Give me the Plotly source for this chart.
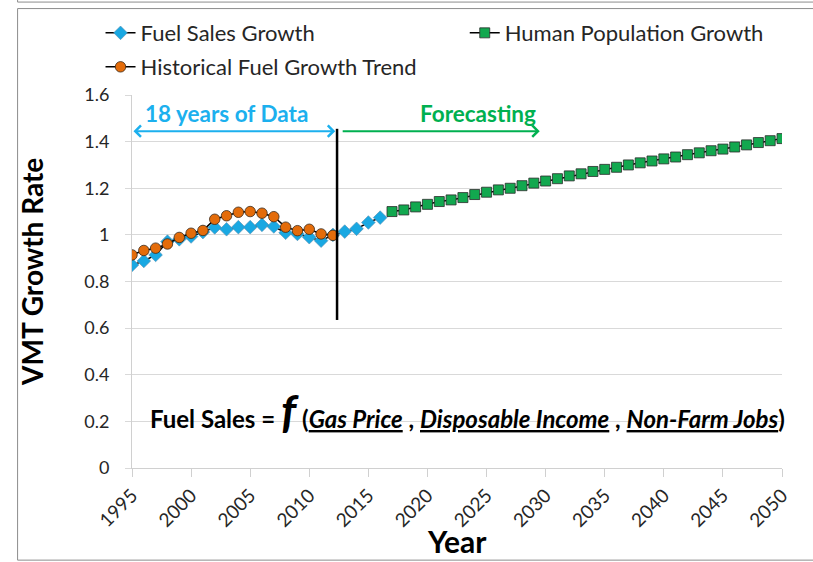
import plotly.graph_objects as go

# ---------------- data ----------------
fuel_years = list(range(1995, 2017))
fuel_sales = [0.871, 0.888, 0.914, 0.971, 0.981, 0.993, 1.012, 1.032, 1.024, 1.033,
              1.033, 1.043, 1.036, 1.009, 1.004, 0.990, 0.975, 1.000, 1.014, 1.026,
              1.053, 1.074]

trend_years = list(range(1995, 2013))
trend_values = [0.914, 0.933, 0.943, 0.961, 0.989, 1.007, 1.019, 1.067, 1.082, 1.097,
                1.100, 1.093, 1.078, 1.033, 1.018, 1.024, 1.004, 0.998]

pop_years = list(range(2017, 2051))
pop_values = [1.100, 1.107, 1.120, 1.131, 1.143, 1.150, 1.160, 1.173, 1.183, 1.193,
              1.200, 1.211, 1.222, 1.231, 1.241, 1.253, 1.262, 1.272, 1.281, 1.290,
              1.300, 1.309, 1.317, 1.326, 1.334, 1.344, 1.352, 1.361, 1.368, 1.377,
              1.386, 1.396, 1.404, 1.413]

x_ticks = list(range(1995, 2051, 5))
y_ticks = [0, 0.2, 0.4, 0.6, 0.8, 1.0, 1.2, 1.4, 1.6]
y_tick_text = ["0", "0.2", "0.4", "0.6", "0.8", "1", "1.2", "1.4", "1.6"]

# ---------------- layout geometry ----------------
W, H = 813, 562
L, R, T, B = 132, 30.5, 95, 93.7
PW, PH = W - L - R, H - T - B


def px(xp):
    return (xp - L) / PW


def py(yp):
    return (H - B - yp) / PH


FONT = "Lato"
TXT = "#262626"
BLUE = "#19A8E2"
ORANGE = "#E46C0A"
GREEN = "#12A84F"

fig = go.Figure()

fig.add_trace(go.Scatter(
    x=fuel_years, y=fuel_sales, name="Fuel Sales Growth", mode="lines+markers",
    line=dict(color="black", width=1.5),
    marker=dict(symbol="diamond", size=10.5, color=BLUE, line=dict(color="#5a8fb0", width=0.6)),
    legend="legend"))
fig.add_trace(go.Scatter(
    x=pop_years, y=pop_values, name="Human Population Growth", mode="lines+markers",
    line=dict(color="black", width=1.5),
    marker=dict(symbol="square", size=10, color=GREEN, line=dict(color="#2b2b2b", width=0.8)),
    legend="legend2"))
fig.add_trace(go.Scatter(
    x=trend_years, y=trend_values, name="Historical Fuel Growth Trend", mode="lines+markers",
    line=dict(color="black", width=1.5),
    marker=dict(symbol="circle", size=10.5, color=ORANGE, line=dict(color="#3a2a1a", width=0.8)),
    legend="legend3"))

leg_common = dict(xanchor="left", yanchor="middle", font=dict(family=FONT, size=22, color=TXT),
                  itemwidth=30, bgcolor="rgba(0,0,0,0)", borderwidth=0)

annotations = [
    dict(x=2003.0, y=1.519, xref="x", yref="y", text="<b>18 years of Data</b>", showarrow=False,
         xanchor="center", yanchor="middle",
         font=dict(family=FONT, size=22.5, color="#1CB0EE")),
    dict(x=2024.3, y=1.519, xref="x", yref="y", text="<b>Forecasting</b>", showarrow=False,
         xanchor="center", yanchor="middle",
         font=dict(family=FONT, size=22.5, color="#00B050")),
    # blue double arrow
    dict(x=2012.2, y=1.445, ax=1995.0, ay=1.445, xref="x", yref="y", axref="x", ayref="y",
         text="", showarrow=True, arrowside="end+start", arrowhead=4, startarrowhead=4,
         arrowsize=1.1, startarrowsize=1.1, arrowwidth=2, arrowcolor="#1CB0EE"),
    # green arrow
    dict(x=2029.5, y=1.445, ax=2012.7, ay=1.445, xref="x", yref="y", axref="x", ayref="y",
         text="", showarrow=True, arrowhead=4, arrowsize=1.1, arrowwidth=2, arrowcolor="#00B050"),
    # formula
    dict(x=px(148), y=py(411), xref="paper", yref="paper", xanchor="left", yanchor="middle",
         showarrow=False,
         text=("<b>Fuel Sales = <span style='font-size:46px'><i>f</i></span> "
               "(<i><u>Gas Price</u></i> , <i><u>Disposable Income</u></i> , "
               "<i><u>Non-Farm Jobs</u></i>)</b>"),
         font=dict(family=FONT, size=24, color="black")),
    # axis titles
    dict(x=px(32), y=py(272), xref="paper", yref="paper", textangle=-90, showarrow=False,
         xanchor="center", yanchor="middle",
         text="<b>VMT Growth Rate</b>", font=dict(family=FONT, size=28, color="black")),
    dict(x=px(457), y=py(541), xref="paper", yref="paper", showarrow=False,
         xanchor="center", yanchor="middle",
         text="<b>Year</b>", font=dict(family=FONT, size=30, color="black")),
]

shapes = [
    dict(type="line", xref="x", yref="y", x0=2012.35, x1=2012.35, y0=0.635, y1=1.455,
         line=dict(color="black", width=2.5), layer="above"),
    dict(type="rect", xref="paper", yref="paper", x0=px(17.5), x1=px(830), y0=py(8.5), y1=py(560.5),
         line=dict(color="#8c8c8c", width=1), layer="below"),
    dict(type="line", xref="paper", yref="paper", x0=px(17.5), x1=px(830), y0=py(2), y1=py(2),
         line=dict(color="#8c8c8c", width=1), layer="below"),
    dict(type="line", xref="paper", yref="paper", x0=px(17.5), x1=px(17.5), y0=py(2), y1=py(-5),
         line=dict(color="#8c8c8c", width=1), layer="below"),
]

fig.update_layout(
    width=W, height=H,
    margin=dict(l=L, r=R, t=T, b=B, pad=0),
    paper_bgcolor="white", plot_bgcolor="white",
    font=dict(family=FONT, color=TXT),
    legend=dict(x=px(100.5), y=py(33), **leg_common),
    legend2=dict(x=px(465), y=py(33), **leg_common),
    legend3=dict(x=px(100.5), y=py(67), **leg_common),
    annotations=annotations,
    shapes=shapes,
    xaxis=dict(range=[1995, 2050], tickmode="array", tickvals=x_ticks, tickangle=-45,
               showgrid=False, showline=True, linecolor="#d0d0d0", linewidth=1,
               ticks="outside", ticklen=8, tickcolor="#d0d0d0",
               tickfont=dict(family=FONT, size=19, color=TXT), zeroline=False),
    yaxis=dict(range=[0, 1.6], tickmode="array", tickvals=y_ticks, ticktext=y_tick_text,
               showgrid=True, gridcolor="#d9d9d9", gridwidth=1,
               showline=True, linecolor="#d0d0d0", linewidth=1,
               ticks="outside", ticklen=6, tickcolor="#d9d9d9", ticklabelstandoff=12,
               tickfont=dict(family=FONT, size=18, color=TXT), zeroline=False),
    showlegend=True,
)

fig.write_html("out.html", config={"displayModeBar": False},
               post_script="document.body.style.margin='0px';document.body.style.overflow='hidden';")
